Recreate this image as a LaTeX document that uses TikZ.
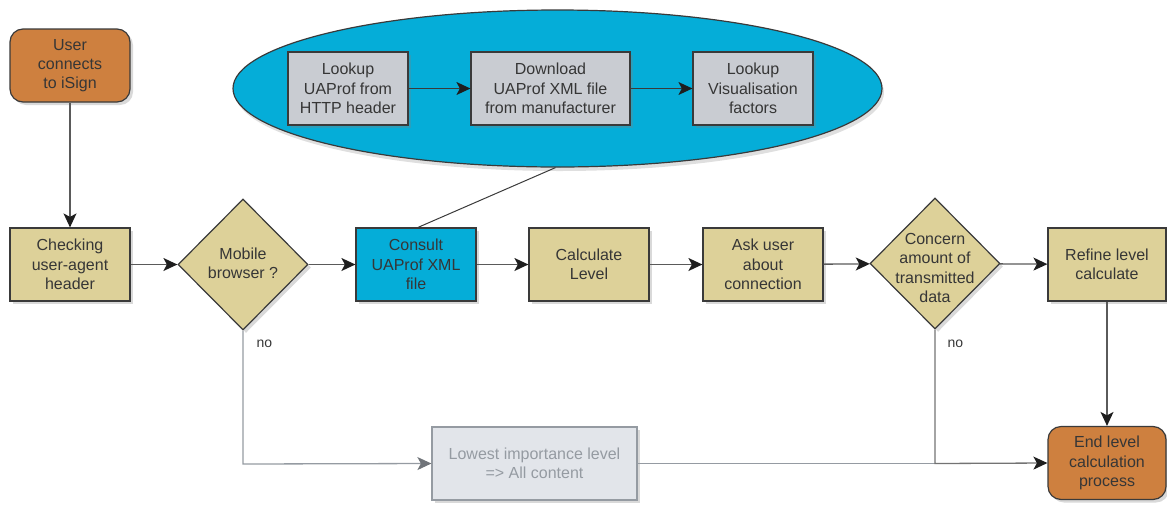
\documentclass[tikz,border=0pt]{standalone}
\usepackage{fontspec}
\setmainfont{Liberation Sans}
\usetikzlibrary{shapes.geometric,arrows.meta,shadows}
\definecolor{orng}{HTML}{CE803F}
\definecolor{tan}{HTML}{DDD199}
\definecolor{cyanb}{HTML}{05ADD8}
\definecolor{greybox}{HTML}{C9CCD2}
\definecolor{lightbox}{HTML}{E2E5EA}
\definecolor{lightline}{HTML}{959BA2}
\definecolor{txt}{HTML}{363636}
\definecolor{edge}{HTML}{3A3A3A}
\definecolor{conn}{HTML}{5A5A5A}
\definecolor{tipc}{HTML}{1E1E1E}
\begin{document}
\begin{tikzpicture}[x=1pt,y=-1pt,
  font=\fontsize{16}{19.3}\selectfont,
  shad/.style={drop shadow={opacity=0.3,shadow xshift=3pt,shadow yshift=-3pt}},
  base/.style={draw=edge,line width=1.2pt,text=txt,align=center,inner sep=0pt,shad},
  boxnode/.style={base,rectangle,minimum height=73pt},
  termnode/.style={base,rectangle,rounded corners=13pt,fill=orng,minimum width=120pt,minimum height=73pt},
  decnode/.style={base,diamond,fill=tan,minimum width=130pt,minimum height=131pt},
  arr/.style={-{Stealth[length=14pt,width=13pt,inset=3.5pt,color=tipc]},line width=1.3pt,draw=conn},
  arrl/.style={-{Stealth[length=14pt,width=13pt,inset=3.5pt,color=lightline!75!black]},line width=1.3pt,draw=lightline},
  lbl/.style={font=\fontsize{14}{16}\selectfont,text=txt,anchor=west}
]
\useasboundingbox (0,0) rectangle (1167,504);

% ellipse group
\node[ellipse,draw=edge,line width=1.2pt,fill=cyanb,minimum width=649pt,minimum height=157pt,inner sep=0pt,
  drop shadow={opacity=0.25,shadow xshift=2pt,shadow yshift=-4pt}] (ell) at (557.5,88.5) {};
\node[boxnode,fill=greybox,minimum width=120pt] (lk) at (348,88.5) {Lookup\\UAProf from\\HTTP header};
\node[boxnode,fill=greybox,minimum width=159pt] (dl) at (550.5,88.5) {Download\\UAProf XML file\\from manufacturer};
\node[boxnode,fill=greybox,minimum width=120pt] (lv) at (753,88.5) {Lookup\\Visualisation\\factors};
\draw[arr,line width=1.1pt,draw=edge] (lk) -- (dl);
\draw[arr,line width=1.1pt,draw=edge] (dl) -- (lv);

% main flow
\node[termnode] (user) at (70,65.5) {User\\connects\\to iSign};
\node[boxnode,fill=tan,minimum width=120pt] (chk) at (70,264.5) {Checking\\user-agent\\header};
\node[decnode] (mob) at (243,264.5) {};
\node[text=txt,align=center] (mobt) at (243,263.5) {Mobile\\browser ?};
\node[boxnode,fill=cyanb,minimum width=120pt] (cons) at (416,264.5) {Consult\\UAProf XML\\file};
\node[boxnode,fill=tan,minimum width=120pt] (calc) at (589,264.5) {Calculate\\Level};
\node[boxnode,fill=tan,minimum width=120pt] (ask) at (763,264.5) {Ask user\\about\\connection};
\node[decnode] (conc) at (935,263.5) {};
\node[text=txt,align=center] (conct) at (935,268) {Concern\\amount of\\transmitted\\data};
\node[boxnode,fill=tan,minimum width=118pt] (ref) at (1107,264.5) {Refine level\\calculate};
\node[termnode,minimum width=118pt] (end) at (1107,463) {End level\\calculation\\process};
\node[boxnode,fill=lightbox,draw=lightline,text=lightline,minimum width=205pt] (low) at (534.5,463.5) {Lowest importance level\\=> All content};

\coordinate (cA) at (243,464);
\coordinate (cB) at (935,463.5);

% connectors
\draw[line width=1pt,draw=edge] ([xshift=2pt]cons.north) -- ([xshift=-2pt]ell.south);
\draw[arr] (user) -- (chk);
\draw[arr] (chk) -- (mob);
\draw[arr] (mob) -- (cons);
\draw[arr] (cons) -- (calc);
\draw[arr] (calc) -- (ask);
\draw[arr] (ask) -- (conc);
\draw[arr] (conc) -- (ref);
\draw[arr] (ref) -- (end);
\draw[arrl] (mob.south) -- (cA) -- (low.west);
\draw[line width=1.3pt,draw=lightline] (low.east) -- (cB);
\draw[arr,draw=conn!85] (conc.south) -- (cB) -- (end.west);

\node[lbl] (no1) at (253,344) {no};
\node[lbl] (no2) at (944,344) {no};
\end{tikzpicture}
\end{document}
